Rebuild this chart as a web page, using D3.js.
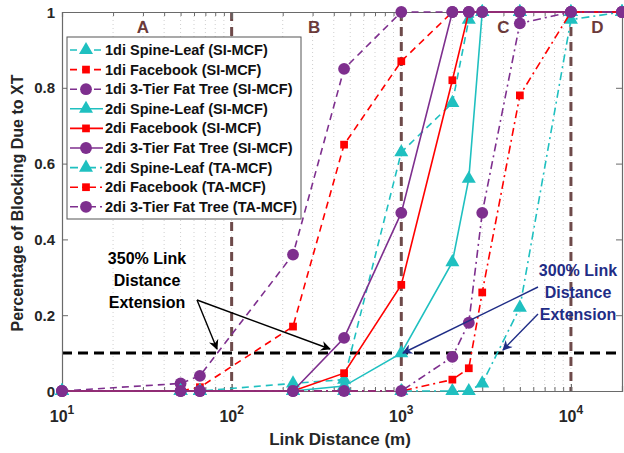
<!DOCTYPE html>
<html>
<head>
<meta charset="utf-8">
<script src="https://cdn.jsdelivr.net/npm/d3@7/dist/d3.min.js"></script>
<style>
  html, body { margin: 0; padding: 0; background: #fff; }
  svg { display: block; font-family: "Liberation Sans", Arial, sans-serif; }
</style>
</head>
<body>
<svg id="chart" width="624" height="453"></svg>
<script>
// Link distances (m) at which blocking was evaluated
const distances = [10, 50, 65, 230, 460, 1000, 2000, 2500, 3000, 5000, 10000, 20000];

// Blocking ratio due to crosstalk, one array per configuration
const sl1diSI = [0, 0, 0, 0.02, 0.03, 0.63, 0.76, 0.98, 1, 1, 1, 1];
const fb1diSI = [0, 0, 0.01, 0.17, 0.65, 0.87, 1, 1, 1, 1, 1, 1];
const ft1diSI = [0, 0.02, 0.04, 0.36, 0.85, 1, 1, 1, 1, 1, 1, 1];
const sl2diSI = [0, 0, 0, 0, 0.013, 0.10, 0.34, 0.56, 1, 1, 1, 1];
const fb2diSI = [0, 0, 0, 0, 0.047, 0.28, 0.82, 1, 1, 1, 1, 1];
const ft2diSI = [0, 0, 0, 0, 0.14, 0.47, 1, 1, 1, 1, 1, 1];
const sl2diTA = [0, 0, 0, 0, 0, 0, 0, 0, 0.02, 0.22, 0.98, 1];
const fb2diTA = [0, 0, 0, 0, 0, 0, 0.03, 0.06, 0.26, 0.78, 1, 1];
const ft2diTA = [0, 0, 0, 0, 0, 0, 0.09, 0.18, 0.47, 0.97, 1, 1];

const seriesNames = [
  "1di Spine-Leaf (SI-MCF)", "1di Facebook (SI-MCF)", "1di 3-Tier Fat Tree (SI-MCF)",
  "2di Spine-Leaf (SI-MCF)", "2di Facebook (SI-MCF)", "2di 3-Tier Fat Tree (SI-MCF)",
  "2di Spine-Leaf (TA-MCF)", "2di Facebook (TA-MCF)", "2di 3-Tier Fat Tree (TA-MCF)"
];
const seriesValues = [sl1diSI, fb1diSI, ft1diSI, sl2diSI, fb2diSI, ft2diSI, sl2diTA, fb2diTA, ft2diTA];

const xTickValues = [10, 100, 1000, 10000];
const yTickValues = [0, 0.2, 0.4, 0.6, 0.8, 1];
const regionBounds = [100, 1000, 10000];
const regionLabels = ["A", "B", "C", "D"];
const regionLabelAt = [30, 306, 4000, 14300];
const threshold = 0.1;

// styling
const CYAN = "#1fc0c0", RED = "#ff0000", PURPLE = "#7e2f8e";
const topoColor = [CYAN, RED, PURPLE];
const topoShape = [d3.symbolTriangle, d3.symbolSquare, d3.symbolCircle];
const topoSize = [85, 60, 110];
const dashFor = ["7,5", null, "8,4,2,4"];

const svg = d3.select("#chart");
const m = { left: 62, right: 622, top: 12, bottom: 391 };

const x = d3.scaleLog().domain([10, 20000]).range([m.left, m.right]);
const y = d3.scaleLinear().domain([0, 1]).range([m.bottom, m.top]);

// vertical grid (major + minor decades)
const gridVals = [];
for (let e = 1; e <= 4; e++) for (let k = 1; k <= 9; k++) {
  const v = k * Math.pow(10, e);
  if (v > 10 && v < 20000) gridVals.push(v);
}
svg.append("g").selectAll("line").data(gridVals).join("line")
  .attr("x1", d => x(d)).attr("x2", d => x(d))
  .attr("y1", m.top).attr("y2", m.bottom)
  .attr("stroke", "#cfcfcf").attr("stroke-width", 1)
  .attr("stroke-dasharray", "1,3");

// region boundaries
svg.append("g").selectAll("line").data(regionBounds).join("line")
  .attr("x1", d => x(d)).attr("x2", d => x(d))
  .attr("y1", m.top).attr("y2", m.bottom)
  .attr("stroke", "#6e4a4a").attr("stroke-width", 3)
  .attr("stroke-dasharray", "9,6");

svg.append("g").selectAll("text").data(regionLabels).join("text")
  .attr("x", (d, i) => x(regionLabelAt[i])).attr("y", 33)
  .attr("text-anchor", "middle")
  .attr("font-size", 17).attr("font-weight", "bold")
  .attr("fill", "#6b3a3a").text(d => d);

// threshold line
svg.append("line")
  .attr("x1", m.left).attr("x2", m.right)
  .attr("y1", y(threshold)).attr("y2", y(threshold))
  .attr("stroke", "#000").attr("stroke-width", 3)
  .attr("stroke-dasharray", "10,6");

// axes box
const axisColor = "#6a6a6a";
const gx = svg.append("g").attr("transform", `translate(0,${m.bottom})`)
  .call(d3.axisBottom(x).tickValues(gridVals.concat(xTickValues)).tickSize(-5).tickFormat(""));
const gxTop = svg.append("g").attr("transform", `translate(0,${m.top})`)
  .call(d3.axisTop(x).tickValues(gridVals.concat(xTickValues)).tickSize(-5).tickFormat(""));
const gy = svg.append("g").attr("transform", `translate(${m.left},0)`)
  .call(d3.axisLeft(y).tickValues(yTickValues).tickSize(-6).tickFormat(""));
const gyR = svg.append("g").attr("transform", `translate(${m.right},0)`)
  .call(d3.axisRight(y).tickValues(yTickValues).tickSize(-6).tickFormat(""));
[gx, gxTop, gy, gyR].forEach(g => {
  g.selectAll("path").attr("stroke", axisColor).attr("stroke-width", 1.2);
  g.selectAll("line").attr("stroke", axisColor);
});
gx.selectAll(".tick line").attr("y2", d => xTickValues.includes(d) ? -7 : -4);
gxTop.selectAll(".tick line").attr("y2", d => xTickValues.includes(d) ? 7 : 4);

// tick labels
svg.append("g").selectAll("text").data(yTickValues).join("text")
  .attr("x", 55).attr("y", d => y(d) + 5.5)
  .attr("text-anchor", "end").attr("font-size", 15).attr("font-weight", "bold")
  .attr("fill", "#262626").text(d => d === 0 || d === 1 ? String(d) : d.toFixed(1));

const xl = svg.append("g").selectAll("text").data(xTickValues).join("text")
  .attr("x", d => x(d)).attr("y", 422)
  .attr("text-anchor", "middle").attr("font-size", 16).attr("font-weight", "bold")
  .attr("fill", "#262626");
xl.append("tspan").text("10");
xl.append("tspan").attr("dy", -8).attr("font-size", 12).text(d => Math.round(Math.log10(d)));

// axis titles
svg.append("text").attr("x", 340).attr("y", 445)
  .attr("text-anchor", "middle").attr("font-size", 17).attr("font-weight", "bold")
  .attr("fill", "#262626").text("Link Distance (m)");
svg.append("text").attr("transform", "translate(23,203) rotate(-90)")
  .attr("text-anchor", "middle").attr("font-size", 16).attr("font-weight", "bold")
  .attr("fill", "#262626").text("Percentage of Blocking Due to XT");

// data series
const line = d3.line().x(d => x(d[0])).y(d => y(d[1]));
const plot = svg.append("g");
seriesValues.forEach((vals, i) => {
  const topo = i % 3, group = Math.floor(i / 3);
  const pts = distances.map((d, j) => [d, vals[j]]);
  const col = topoColor[topo];
  plot.append("path").datum(pts).attr("d", line)
    .attr("fill", "none").attr("stroke", col).attr("stroke-width", 1.6)
    .attr("stroke-dasharray", dashFor[group]);
  plot.append("g").selectAll("path").data(pts).join("path")
    .attr("transform", p => `translate(${x(p[0])},${y(p[1])})`)
    .attr("d", d3.symbol().type(topoShape[topo]).size(topoSize[topo]))
    .attr("fill", col);
});

// annotations
const defs = svg.append("defs");
function marker(id, color) {
  defs.append("marker").attr("id", id).attr("viewBox", "0 0 10 10")
    .attr("refX", 9).attr("refY", 5).attr("markerWidth", 12).attr("markerHeight", 10)
    .attr("markerUnits", "userSpaceOnUse").attr("orient", "auto")
    .append("path").attr("d", "M0,0 L10,5 L0,10 L3,5 z").attr("fill", color);
}
marker("ahBlack", "#000");
marker("ahNavy", "#1f2d86");

function arrow(x1, y1, x2, y2, color, id) {
  svg.append("line").attr("x1", x1).attr("y1", y1).attr("x2", x2).attr("y2", y2)
    .attr("stroke", color).attr("stroke-width", 1.4).attr("marker-end", `url(#${id})`);
}
arrow(197, 300, 217, 349, "#000", "ahBlack");
arrow(197, 300, 330, 349, "#000", "ahBlack");
arrow(538, 287, 403, 353, "#1f2d86", "ahNavy");
arrow(538, 314, 503, 350, "#1f2d86", "ahNavy");

function block(lines, cx, y0, color) {
  svg.append("g").selectAll("text").data(lines).join("text")
    .attr("x", cx).attr("y", (d, i) => y0 + i * 22)
    .attr("text-anchor", "middle").attr("font-size", 16).attr("font-weight", "bold")
    .attr("fill", color).text(d => d);
}
block(["350% Link", "Distance", "Extension"], 147, 264, "#000");
block(["300% Link", "Distance", "Extension"], 578, 276, "#1f2d86");

// legend
const lg = svg.append("g");
const lgX = 67, lgY = 37, lgW = 234, lgH = 182, rowH = 19.6;
lg.append("rect").attr("x", lgX).attr("y", lgY).attr("width", lgW).attr("height", lgH)
  .attr("fill", "#fff").attr("stroke", "#555").attr("stroke-width", 1);
seriesNames.forEach((name, i) => {
  const topo = i % 3, group = Math.floor(i / 3);
  const cy = 50 + i * rowH;
  const col = topoColor[topo];
  lg.append("line").attr("x1", 70).attr("x2", 103).attr("y1", cy).attr("y2", cy)
    .attr("stroke", col).attr("stroke-width", 1.6).attr("stroke-dasharray", dashFor[group]);
  lg.append("path").attr("transform", `translate(86,${cy})`)
    .attr("d", d3.symbol().type(topoShape[topo]).size(topoSize[topo])).attr("fill", col);
  lg.append("text").attr("x", 105).attr("y", cy + 5)
    .attr("font-size", 14.5).attr("font-weight", "bold").attr("fill", "#111").text(name);
});
</script>
</body>
</html>
